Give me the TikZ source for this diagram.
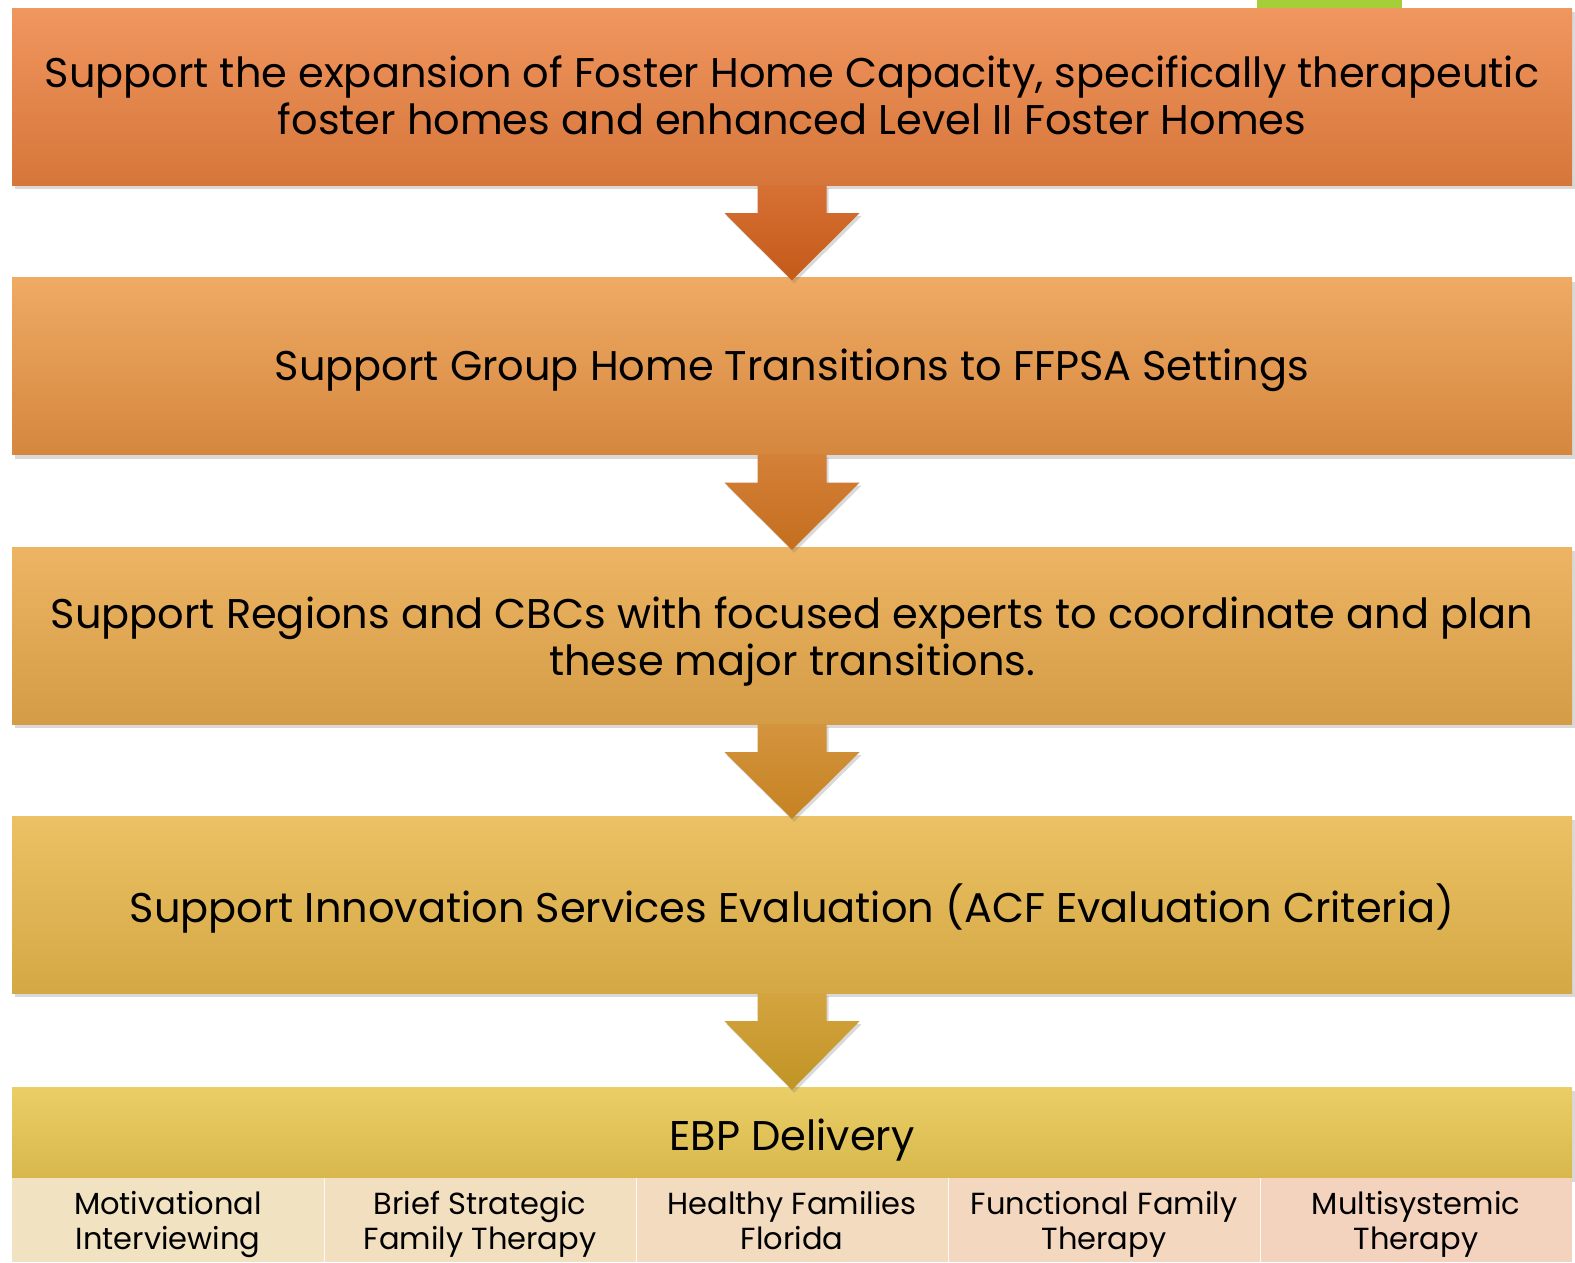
\documentclass[tikz,border=0pt]{standalone}
\usepackage{fontspec}
\setmainfont{Poppins}
\usetikzlibrary{calc,shadows}
\definecolor{bAt}{RGB}{240,150,95}\definecolor{bAb}{RGB}{214,118,58}
\definecolor{bBt}{RGB}{239,170,100}\definecolor{bBb}{RGB}{213,135,62}
\definecolor{bCt}{RGB}{237,180,100}\definecolor{bCb}{RGB}{212,156,69}
\definecolor{bDt}{RGB}{236,193,101}\definecolor{bDb}{RGB}{212,168,68}
\definecolor{bEt}{RGB}{234,206,102}\definecolor{bEb}{RGB}{216,184,77}
\definecolor{aAt}{RGB}{214,112,52}\definecolor{aAb}{RGB}{196,90,24}
\definecolor{aBt}{RGB}{212,128,56}\definecolor{aBb}{RGB}{196,110,30}
\definecolor{aCt}{RGB}{212,148,62}\definecolor{aCb}{RGB}{198,130,34}
\definecolor{aDt}{RGB}{212,164,64}\definecolor{aDb}{RGB}{192,148,36}
\definecolor{cA}{RGB}{241,227,194}\definecolor{cB}{RGB}{242,223,192}
\definecolor{cC}{RGB}{242,219,191}\definecolor{cD}{RGB}{243,215,191}
\definecolor{cE}{RGB}{243,211,190}
\definecolor{greenbar}{RGB}{166,206,57}
\newcommand{\blockarrow}[4]{%
  \path[top color=#3,bottom color=#4,
    drop shadow={shadow xshift=2pt,shadow yshift=-3pt,opacity=0.3}]
    ($(#1.south)+(-34.5,0)$) -- ($(#1.south)+(34.5,0)$) -- ($(#1.south)+(34.5,28)$)
    -- ($(#1.south)+(67.5,28)$) -- ($(#2.north)+(0,3)$) -- ($(#1.south)+(-67.5,28)$)
    -- ($(#1.south)+(-34.5,28)$) -- cycle;}
\begin{document}
\begin{tikzpicture}[x=1pt,y=-1pt,
  stage/.style={minimum width=1560pt,minimum height=177pt,inner sep=0pt,
    drop shadow={shadow xshift=3pt,shadow yshift=-4pt,opacity=0.3}},
  stagetext/.style={inner sep=0pt,align=center,yshift=-4pt,
    font=\fontsize{41.5}{47}\selectfont},
  cell/.style={minimum width=312pt,minimum height=84pt,inner sep=0pt},
  celltext/.style={inner sep=0pt,align=center,yshift=-4pt,
    font=\fontsize{30.5}{35}\selectfont}]
\useasboundingbox (0,0) rectangle (1575,1262);
\fill[greenbar] (1257,0) rectangle (1402,8);
\node[stage,top color=bAt,bottom color=bAb] (b1) at (792,96.5) {};
\node[stage,top color=bBt,bottom color=bBb] (b2) at (792,366) {};
\node[stage,top color=bCt,bottom color=bCb] (b3) at (792,635.5) {};
\node[stage,top color=bDt,bottom color=bDb] (b4) at (792,904.5) {};
\node[stage,minimum height=91pt,top color=bEt,bottom color=bEb] (b5) at (792,1132.5) {};
\node[stagetext] (t1) at (b1.center)
  {Support the expansion of Foster Home Capacity, specifically therapeutic\\foster homes and enhanced Level II Foster Homes\vphantom{y}};
\node[stagetext] (t2) at (b2.center) {Support Group Home Transitions to FFPSA Settings};
\node[stagetext,yshift=-2pt] (t3) at (b3.center)
  {Support Regions and CBCs with focused experts to coordinate and plan\\these major transitions.};
\node[stagetext] (t4) at (b4.center) {Support Innovation Services Evaluation (ACF Evaluation Criteria)};
\node[stagetext,yshift=-4pt] (t5) at (b5.center) {EBP Delivery};
\node[cell,fill=cA] (c1) at (168,1220) {};
\node[cell,fill=cB] (c2) at (480,1220) {};
\node[cell,fill=cC] (c3) at (792,1220) {};
\node[cell,fill=cD] (c4) at (1104,1220) {};
\node[cell,fill=cE] (c5) at (1416,1220) {};
\node[celltext] (d1) at (c1.center) {Motivational\\Interviewing};
\node[celltext] (d2) at (c2.center) {Brief Strategic\\Family Therapy};
\node[celltext] (d3) at (c3.center) {Healthy Families\\Florida\vphantom{y}};
\node[celltext] (d4) at (c4.center) {Functional Family\\Therapy};
\node[celltext] (d5) at (c5.center) {Multisystemic\\Therapy};
\draw[white!85!cC,line width=1pt] (c1.north east) -- (c1.south east)
  (c2.north east) -- (c2.south east) (c3.north east) -- (c3.south east)
  (c4.north east) -- (c4.south east);
\blockarrow{b1}{b2}{aAt}{aAb}
\blockarrow{b2}{b3}{aBt}{aBb}
\blockarrow{b3}{b4}{aCt}{aCb}
\blockarrow{b4}{b5}{aDt}{aDb}
\end{tikzpicture}
\end{document}
